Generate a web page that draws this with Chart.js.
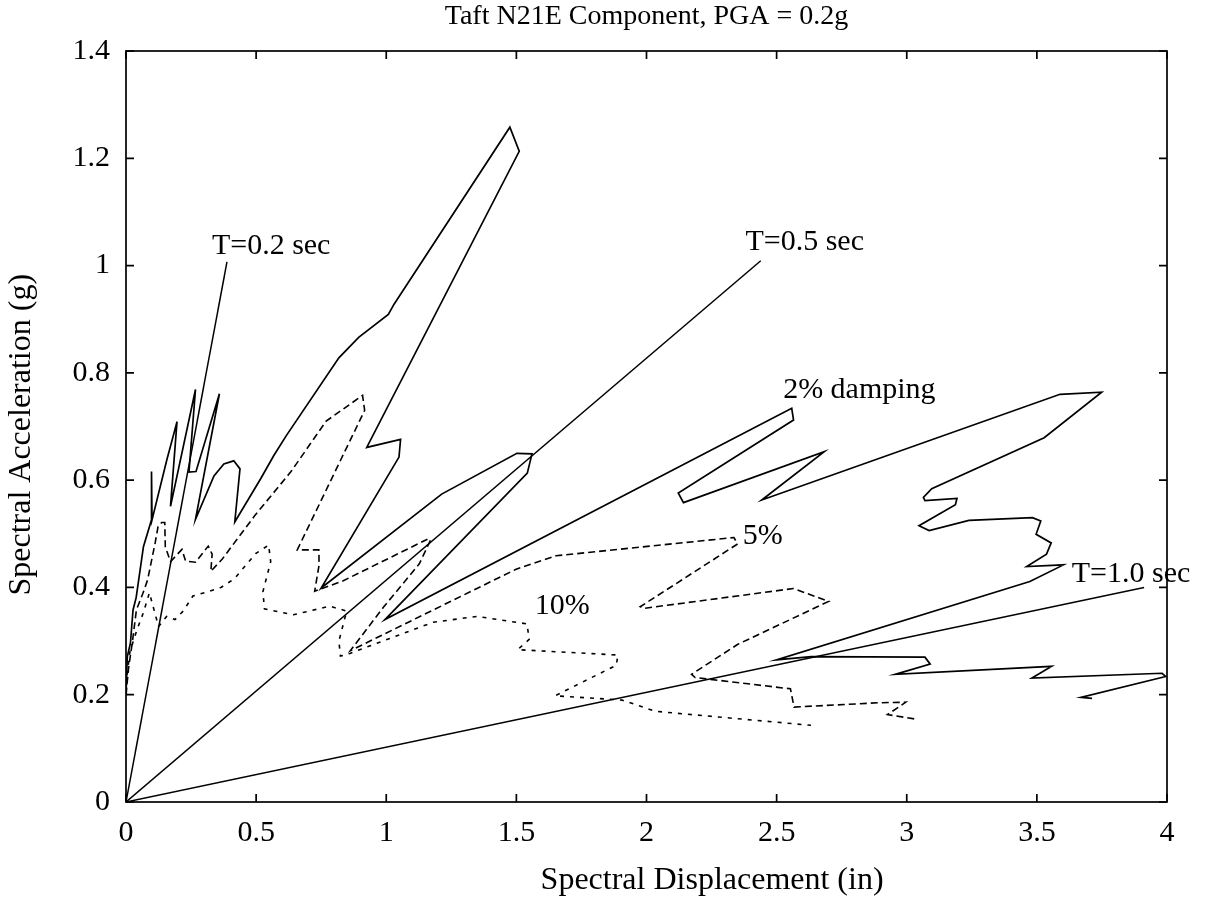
<!DOCTYPE html>
<html>
<head>
<meta charset="utf-8">
<script src="https://cdn.jsdelivr.net/npm/chart.js@4/dist/chart.umd.min.js"></script>
<style>
html,body{margin:0;padding:0;background:#fff;}
#wrap{width:1205px;height:911px;}
</style>
</head>
<body>
<div id="wrap"><canvas id="c" width="1205" height="911"></canvas></div>
<script>
// ---- data ----
const titleText = 'Taft N21E Component, PGA = 0.2g';
const xTitle = 'Spectral Displacement (in)';
const yTitle = 'Spectral Acceleration (g)';
const xTickLabels = ['0','0.5','1','1.5','2','2.5','3','3.5','4'];
const yTickLabels = ['0','0.2','0.4','0.6','0.8','1','1.2','1.4'];

// 2% damping (solid)
const damp2Sd = [0,0.001,0.005,0.017,0.027,0.039,0.067,0.098,0.098,0.100,
  0.157,0.196,0.171,0.267,0.242,0.269,0.359,0.267,0.338,0.376,
  0.414,0.438,0.418,0.518,0.568,0.616,0.818,0.894,1.008,1.030,
  1.475,1.511,0.925,1.055,1.049,0.750,1.213,1.502,1.560,1.542,
  0.995,2.558,2.565,2.122,2.142,2.683,2.443,3.589,3.749,3.528,
  3.096,3.064,3.070,3.193,3.187,3.047,3.086,3.239,3.483,3.515,
  3.497,3.555,3.537,3.461,3.602,3.473,2.499,2.633,3.070,3.090,
  2.956,3.557,3.481,3.981,3.995,3.669,3.712];
const damp2Sa = [0.2,0.215,0.271,0.296,0.358,0.381,0.476,0.526,0.616,0.526,
  0.638,0.709,0.551,0.769,0.615,0.616,0.761,0.527,0.608,0.630,
  0.636,0.621,0.522,0.603,0.646,0.683,0.828,0.866,0.909,0.928,
  1.258,1.213,0.661,0.676,0.643,0.399,0.574,0.650,0.649,0.613,
  0.340,0.734,0.712,0.576,0.558,0.653,0.563,0.760,0.764,0.679,
  0.584,0.568,0.562,0.566,0.554,0.515,0.506,0.525,0.530,0.524,
  0.499,0.483,0.462,0.439,0.442,0.411,0.265,0.271,0.270,0.257,
  0.238,0.253,0.231,0.240,0.234,0.195,0.193];

// 5% damping (dashed)
const damp5Sd = [0,0.01,0.025,0.04,0.065,0.083,0.112,0.123,0.137,0.149,
  0.151,0.171,0.215,0.229,0.267,0.316,0.331,0.326,0.370,0.495,
  0.634,0.769,0.909,0.917,0.658,0.741,0.742,0.725,0.833,1.163,
  1.170,1.127,0.989,0.862,1.499,1.652,2.336,2.350,1.976,1.990,
  2.565,2.700,2.351,2.173,2.187,2.553,2.567,2.893,2.996,2.926,3.029];
const damp5Sa = [0.2,0.25,0.30,0.358,0.389,0.414,0.483,0.513,0.521,0.521,
  0.476,0.448,0.471,0.449,0.447,0.477,0.462,0.430,0.453,0.534,
  0.616,0.710,0.758,0.730,0.470,0.470,0.442,0.393,0.412,0.491,
  0.488,0.444,0.363,0.282,0.434,0.459,0.493,0.481,0.364,0.361,
  0.398,0.374,0.294,0.238,0.232,0.211,0.177,0.185,0.186,0.163,0.155];

// 10% damping (short dashes)
const damp10Sd = [0,0.005,0.015,0.042,0.066,0.09,0.125,0.156,0.188,0.220,
  0.257,0.308,0.365,0.416,0.498,0.548,0.556,0.526,0.532,0.643,
  0.783,0.848,0.818,0.824,0.860,1.180,1.349,1.541,1.549,1.505,
  1.890,1.884,1.649,1.906,2.035,2.632];
const damp10Sa = [0.2,0.24,0.28,0.321,0.352,0.39,0.327,0.346,0.340,0.356,
  0.384,0.391,0.400,0.416,0.463,0.479,0.448,0.392,0.360,0.349,
  0.365,0.356,0.300,0.272,0.277,0.335,0.346,0.332,0.303,0.284,
  0.274,0.255,0.198,0.190,0.169,0.143];

// constant-period radial lines: end points (start at origin)
const periodNames = ['T=0.2 sec','T=0.5 sec','T=1.0 sec'];
const periodEndSd = [0.388, 2.439, 3.912];
const periodEndSa = [1.007, 1.009, 0.400];

// annotation texts and their anchor (data units, left/middle)
const noteText = ['T=0.2 sec','T=0.5 sec','2% damping','5%','10%','T=1.0 sec'];
const noteSd = [0.330, 2.380, 2.525, 2.370, 1.571, 3.634];
const noteSa = [1.037, 1.044, 0.767, 0.496, 0.365, 0.425];

// ---- build ----
const FONT = "'Liberation Serif', 'Times New Roman', serif";
function pts(xs, ys){ return xs.map((x,i)=>({x:x, y:ys[i]})); }

const datasets = [
  {label:'2% damping', data:pts(damp2Sd,damp2Sa), borderColor:'#000', borderWidth:1.7, showLine:true, pointRadius:0, fill:false, tension:0},
  {label:'5% damping', data:pts(damp5Sd,damp5Sa), borderColor:'#000', borderWidth:1.6, borderDash:[7,4], showLine:true, pointRadius:0, fill:false, tension:0},
  {label:'10% damping', data:pts(damp10Sd,damp10Sa), borderColor:'#000', borderWidth:1.6, borderDash:[4,6], showLine:true, pointRadius:0, fill:false, tension:0}
];
periodNames.forEach((n,i)=>{
  datasets.push({label:n, data:[{x:0,y:0},{x:periodEndSd[i],y:periodEndSa[i]}], borderColor:'#000', borderWidth:1.5, showLine:true, pointRadius:0, fill:false});
});

const boxPlugin = {
  id:'matlabBox',
  afterDraw(chart){
    const {ctx, chartArea:a, scales:{x,y}} = chart;
    ctx.save();
    ctx.strokeStyle = '#000';
    ctx.lineWidth = 1.7;
    ctx.strokeRect(a.left, a.top, a.right-a.left, a.bottom-a.top);
    const L = 8;
    ctx.beginPath();
    x.ticks.forEach(t=>{
      const px = x.getPixelForValue(t.value);
      ctx.moveTo(px, a.bottom); ctx.lineTo(px, a.bottom-L);
      ctx.moveTo(px, a.top); ctx.lineTo(px, a.top+L);
    });
    y.ticks.forEach(t=>{
      const py = y.getPixelForValue(t.value);
      ctx.moveTo(a.left, py); ctx.lineTo(a.left+L, py);
      ctx.moveTo(a.right, py); ctx.lineTo(a.right-L, py);
    });
    ctx.stroke();
    ctx.fillStyle = '#000';
    // annotations
    ctx.font = "30px " + FONT;
    ctx.textAlign = 'left';
    ctx.textBaseline = 'middle';
    noteText.forEach((s,i)=>{
      ctx.fillText(s, x.getPixelForValue(noteSd[i]), y.getPixelForValue(noteSa[i]));
    });
    // axis titles
    ctx.font = "32px " + FONT;
    ctx.textAlign = 'center';
    ctx.fillText(xTitle, a.left + 0.563*(a.right-a.left), 881);
    ctx.translate(22, a.top + 0.511*(a.bottom-a.top));
    ctx.rotate(-Math.PI/2);
    ctx.fillText(yTitle, 0, 0);
    ctx.restore();
  }
};

new Chart(document.getElementById('c'), {
  type:'scatter',
  data:{datasets:datasets},
  options:{
    responsive:false,
    animation:false,
    devicePixelRatio:1,
    layout:{padding:{left:0,right:38,top:0,bottom:0}},
    plugins:{
      legend:{display:false},
      tooltip:{enabled:false},
      title:{display:true, text:titleText, fullSize:false, color:'#000',
        font:{family:FONT, size:28, weight:'normal'}, padding:{top:0,bottom:17.4}}
    },
    scales:{
      x:{type:'linear', min:0, max:4,
        afterFit:(s)=>{ s.height = 109; },
        grid:{display:false}, border:{display:false},
        ticks:{stepSize:0.5, padding:5, color:'#000', maxRotation:0, autoSkip:false,
          font:{family:FONT, size:30},
          callback:(v,i)=> xTickLabels[i] !== undefined ? xTickLabels[i] : ''}
      },
      y:{type:'linear', min:0, max:1.4,
        afterFit:(s)=>{ s.width = 126; },
        grid:{display:false}, border:{display:false},
        ticks:{stepSize:0.2, padding:8, color:'#000', autoSkip:false,
          font:{family:FONT, size:30},
          callback:(v,i)=> yTickLabels[i] !== undefined ? yTickLabels[i] : ''}
      }
    }
  },
  plugins:[boxPlugin]
});
</script>
</body>
</html>
